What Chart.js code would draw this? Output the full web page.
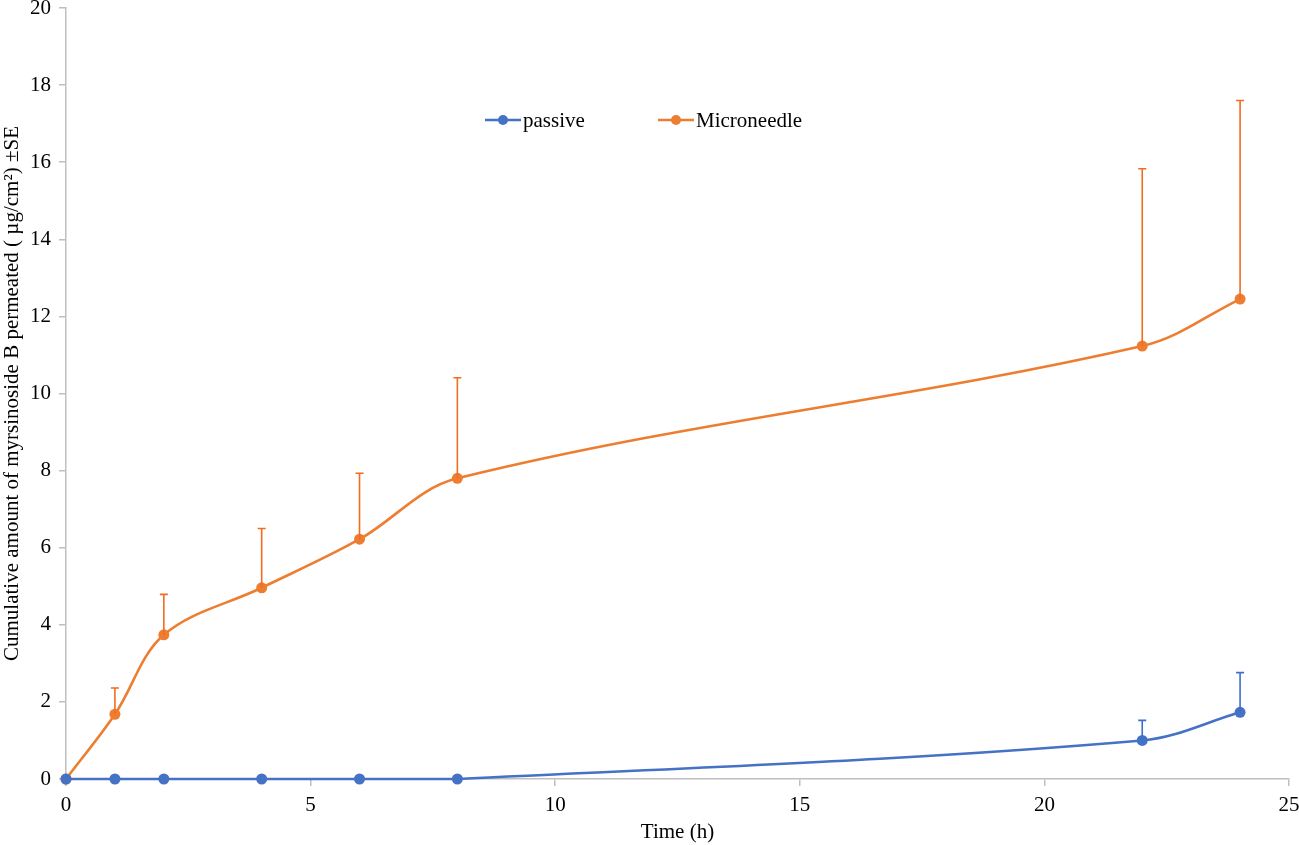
<!DOCTYPE html>
<html>
<head>
<meta charset="utf-8">
<script src="https://cdn.jsdelivr.net/npm/chart.js@4"></script>
<style>
  body { margin: 0; background: #fff; }
  #wrap { width: 1299px; height: 845px; position: relative; }
</style>
</head>
<body>
<div id="wrap"><canvas id="permChart"></canvas></div>
<script>
// time points (h)
const times = [0, 1, 2, 4, 6, 8, 22, 24];
// cumulative amount (µg/cm²)
const passive = [0, 0, 0, 0, 0, 0, 1.0, 1.73];
const passiveSE = [0, 0, 0, 0, 0, 0, 0.52, 1.03];
const microneedle = [0, 1.68, 3.74, 4.96, 6.22, 7.80, 11.23, 12.45];
const microneedleSE = [0, 0.68, 1.05, 1.54, 1.71, 2.61, 4.60, 5.15];
const xTicks = [0, 5, 10, 15, 20, 25];
const yTicks = [0, 2, 4, 6, 8, 10, 12, 14, 16, 18, 20];

const serif = "'Liberation Serif', 'Times New Roman', serif";
const axisGray = '#bfbfbf';

function toPoints(ys) {
    return times.map((t, i) => ({ x: t, y: ys[i] }));
}

// draws plus-only error bars with caps
const errorBars = {
    id: 'errorBars',
    afterDatasetsDraw(chart) {
        const ctx = chart.ctx;
        const xs = chart.scales.x, ys = chart.scales.y;
        chart.data.datasets.forEach((ds, di) => {
            if (!chart.isDatasetVisible(di)) return;
            ctx.save();
            ctx.strokeStyle = ds.errorColor;
            ctx.lineWidth = 1.6;
            ds.data.forEach((p, i) => {
                const se = ds.errors[i];
                if (!se) return;
                const px = xs.getPixelForValue(p.x);
                const y0 = ys.getPixelForValue(p.y);
                const y1 = ys.getPixelForValue(p.y + se);
                ctx.beginPath();
                ctx.moveTo(px, y0);
                ctx.lineTo(px, y1);
                ctx.moveTo(px - 4, y1);
                ctx.lineTo(px + 4, y1);
                ctx.stroke();
            });
            ctx.restore();
        });
    }
};

// legend inside the plot: line + dot + label
const insideLegend = {
    id: 'insideLegend',
    afterDraw(chart) {
        const ctx = chart.ctx;
        const spots = [485, 658];
        const y = 120;
        ctx.save();
        ctx.font = '21px ' + serif;
        ctx.textBaseline = 'middle';
        chart.data.datasets.forEach((ds, i) => {
            const x = spots[i];
            ctx.strokeStyle = ds.borderColor;
            ctx.lineWidth = 2.5;
            ctx.beginPath();
            ctx.moveTo(x, y);
            ctx.lineTo(x + 36, y);
            ctx.stroke();
            ctx.fillStyle = ds.backgroundColor;
            ctx.beginPath();
            ctx.arc(x + 18, y, 5, 0, Math.PI * 2);
            ctx.fill();
            ctx.fillStyle = '#000';
            ctx.fillText(ds.label, x + 38, y + 1);
        });
        ctx.restore();
    }
};

const ctx = document.getElementById('permChart').getContext('2d');
new Chart(ctx, {
    type: 'line',
    data: {
        datasets: [{
            label: 'passive',
            data: toPoints(passive),
            errors: passiveSE,
            errorColor: '#3F6FCB',
            borderColor: '#4472C4',
            backgroundColor: '#4472C4',
            borderWidth: 2.6,
            pointRadius: 5.5,
            pointBorderWidth: 0,
            tension: 0.35,
            clip: false
        }, {
            label: 'Microneedle',
            data: toPoints(microneedle),
            errors: microneedleSE,
            errorColor: '#F26C1E',
            borderColor: '#ED7D31',
            backgroundColor: '#ED7D31',
            borderWidth: 2.6,
            pointRadius: 5.5,
            pointBorderWidth: 0,
            tension: 0.35,
            clip: false
        }]
    },
    options: {
        responsive: true,
        maintainAspectRatio: false,
        animation: false,
        layout: { padding: 0 },
        plugins: {
            legend: { display: false },
            tooltip: { enabled: false }
        },
        scales: {
            x: {
                type: 'linear',
                min: 0,
                max: 25,
                afterFit: s => { s.height = 66; s.paddingRight = 10; },
                afterBuildTicks: s => { s.ticks = xTicks.map(v => ({ value: v })); },
                grid: { drawOnChartArea: false, tickLength: 7, color: axisGray, lineWidth: 1.5 },
                border: { color: axisGray, width: 1.5 },
                ticks: { color: '#000', font: { family: serif, size: 21 }, padding: 7, maxRotation: 0 },
                title: { display: true, text: 'Time (h)', color: '#000', font: { family: serif, size: 21 }, padding: { top: 5, bottom: 0 } }
            },
            y: {
                min: 0,
                max: 20,
                afterFit: s => { s.width = 66; s.paddingTop = 8; },
                afterBuildTicks: s => { s.ticks = yTicks.map(v => ({ value: v })); },
                grid: { drawOnChartArea: false, tickLength: 7, color: axisGray, lineWidth: 1.5 },
                border: { color: axisGray, width: 1.5 },
                ticks: { color: '#000', font: { family: serif, size: 21 }, padding: 8 },
                title: { display: true, text: 'Cumulative amount of myrsinoside B permeated ( µg/cm²) ±SE', color: '#000', font: { family: serif, size: 21 }, padding: 0 }
            }
        }
    },
    plugins: [errorBars, insideLegend]
});
</script>
</body>
</html>
